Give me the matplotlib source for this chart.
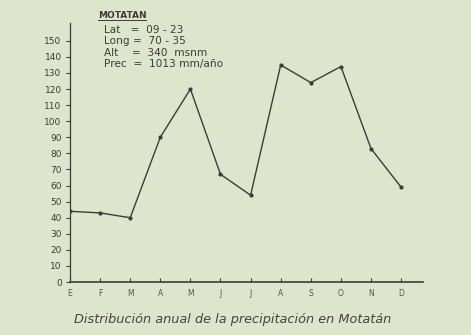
import matplotlib.pyplot as plt

meses = ['E', 'F', 'M', 'A', 'M', 'J', 'J', 'A', 'S', 'O', 'N', 'D']
precip = [44, 43, 40, 90, 120, 67, 54, 135, 124, 134, 83, 59]
y_ticks = list(range(0, 160, 10))
info = ['Lat   =  09 - 23', 'Long =  70 - 35', 'Alt    =  340  msnm', 'Prec  =  1013 mm/año']

fondo = '#dde5cd'
tinta = '#3c3c38'

fig = plt.figure(figsize=(4.71, 3.35), dpi=100, facecolor=fondo)
ax = fig.add_axes([0.1486, 0.158, 0.749, 0.773], facecolor=fondo)

x = list(range(len(meses)))
ax.plot(x, precip, color=tinta, lw=1.0, marker='o', ms=2, mfc=tinta, mec=tinta)

ax.set_xlim(0, 11.72)
ax.set_ylim(0, 161)
ax.set_xticks(x)
ax.set_xticklabels(meses, fontsize=5.5, color='#555550')
ax.set_yticks(y_ticks)
ax.set_yticklabels([str(v) for v in y_ticks], fontsize=6.5, color=tinta)
ax.tick_params(axis='x', direction='in', length=3, width=0.8, color=tinta, pad=5)
ax.tick_params(axis='y', direction='out', length=3, width=0.8, color=tinta, pad=3)

for lado in ['top', 'right']:
    ax.spines[lado].set_visible(False)
ax.spines['left'].set_color(tinta)
ax.spines['bottom'].set_color(tinta)
ax.spines['left'].set_linewidth(0.9)
ax.spines['bottom'].set_linewidth(1.2)

# recuadro con datos de la estacion
fig.text(98 / 471, 1 - 15 / 335, 'MOTATAN', fontsize=6.5, fontweight='bold',
         color=tinta, va='center', ha='left')
fig.add_artist(plt.Line2D([98 / 471, 146 / 471], [1 - 20 / 335, 1 - 20 / 335],
                          color=tinta, lw=0.7))
for i, linea in enumerate(info):
    fig.text(104 / 471, 1 - (30 + i * 11.3) / 335, linea, fontsize=7.6,
             color=tinta, va='center', ha='left')

fig.text(233 / 471, 1 - 319 / 335,
         'Distribución anual de la precipitación en Motatán',
         fontsize=9.3, style='italic', color='#444440', ha='center', va='center')

fig.savefig('out.png', dpi=100, facecolor=fondo)
